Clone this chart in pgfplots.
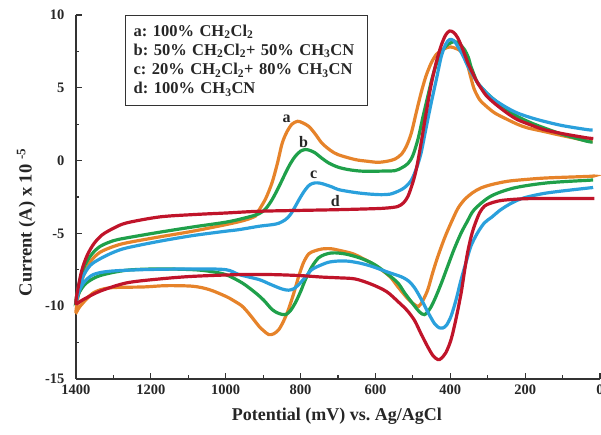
\documentclass[border=0pt]{standalone}
\usepackage{fontspec}
\setmainfont{Liberation Serif}
\usepackage{pgfplots}
\pgfplotsset{compat=1.18}
\frenchspacing

\definecolor{cvA}{HTML}{E6832A}
\definecolor{cvB}{HTML}{1FA04A}
\definecolor{cvC}{HTML}{2AA0DC}
\definecolor{cvD}{HTML}{C0142A}
\definecolor{axcol}{HTML}{333333}

\begin{document}
\begin{tikzpicture}
\begin{axis}[
  at={(0,0)}, anchor=south west,
  scale only axis,
  width=524pt, height=364pt,
  x dir=reverse,
  xmin=0, xmax=1400,
  ymin=-15, ymax=10,
  xtick={0,200,...,1400},
  ytick={-15,-10,...,10},
  minor x tick num=1,
  minor y tick num=1,
  axis x line*=bottom,
  axis y line*=left,
  tick align=inside,
  major tick length=6pt,
  minor tick length=3.5pt,
  every tick/.style={axcol, line width=1.2pt},
  axis line style={axcol, line width=1.3pt},
  /pgf/number format/assume math mode=true,
  /pgf/number format/1000 sep={},
  tick label style={font=\bfseries\fontsize{14.5}{16}\selectfont, text=black!85},
  yticklabel style={xshift=-8pt},
  xticklabel style={yshift=-2pt},
  xlabel={\fontsize{18}{20}\selectfont\bfseries Potential (mV) vs. Ag/AgCl},
  xlabel style={text=black!85,
    at={(axis description cs:0.498,-0.102)}, anchor=center},
  every axis plot/.append style={line width=3.2pt, smooth, tension=0.5},
  clip=false,
]
% a: 100% CH2Cl2 (lower branch 0->1400, then upper branch 1400->0)
\addplot[cvA] coordinates {
(20,-1.05) (26,-1.08) (141,-1.19) (200,-1.3) (247,-1.42) (290,-1.65)
(318,-1.88) (340,-2.2) (362,-2.68) (380,-3.3) (398,-4.28) (415,-5.3)
(433,-6.57) (447,-7.7) (460,-8.86) (473,-9.6) (484,-10.0) (495,-9.9)
(513,-9.5) (539,-8.7) (560,-8.0) (584,-7.5) (610,-7.05) (628,-6.8)
(660,-6.4) (699,-6.15) (720,-6.05) (743,-6.07) (762,-6.2) (778,-6.4)
(792,-7.0) (805,-7.95) (818,-9.1) (832,-10.2) (845,-11.0) (858,-11.6)
(872,-11.9) (885,-11.95) (898,-11.7) (911,-11.38) (935,-10.6) (956,-10.0)
(980,-9.6) (1000,-9.32) (1044,-8.86) (1088,-8.63) (1159,-8.59) (1221,-8.68)
(1310,-8.74) (1354,-9.09) (1389,-10.0) (1400,-10.4)
(1392,-9.0) (1380,-7.9) (1360,-6.9) (1336,-6.3) (1300,-5.9) (1265,-5.65)
(1177,-5.24) (1088,-4.85) (1000,-4.4) (950,-4.1) (920,-3.8) (911,-3.4)
(893,-2.6) (876,-1.5) (862,-0.2) (849,1.2) (836,2.0) (823,2.5) (808,2.7)
(795,2.6) (778,2.35) (760,1.8) (743,1.2) (720,0.7) (699,0.4) (654,0.07)
(620,-0.05) (593,-0.12) (570,-0.05) (548,0.1) (530,0.45) (517,1.0)
(504,1.9) (490,3.4) (478,4.65) (465,5.8) (451,6.7) (437,7.3) (424,7.55)
(410,7.75) (398,7.8) (385,7.7) (371,7.5) (360,7.0) (353,6.5) (345,5.7)
(336,4.9) (322,4.2) (309,3.85) (283,3.3) (256,2.93) (221,2.5) (194,2.25)
(150,2.0) (114,1.79) (70,1.55) (30,1.33) (20,1.3)
};
% b: 50/50
\addplot[cvB] coordinates {
(20,-1.33) (30,-1.35) (141,-1.53) (230,-1.88) (292,-2.45) (336,-3.37)
(355,-4.2) (371,-4.97) (390,-6.1) (407,-7.26) (425,-8.5) (442,-9.55)
(455,-10.2) (469,-10.58) (482,-10.4) (495,-10.0) (510,-9.5) (522,-9.09)
(540,-8.4) (566,-7.83) (590,-7.35) (610,-7.03) (640,-6.7) (672,-6.46)
(695,-6.36) (717,-6.34) (735,-6.45) (752,-6.68) (770,-7.3) (787,-8.17)
(800,-9.0) (814,-9.77) (827,-10.3) (840,-10.58) (858,-10.5) (876,-10.23)
(898,-9.6) (920,-9.09) (956,-8.4) (1000,-7.83) (1044,-7.6) (1088,-7.49)
(1177,-7.44) (1265,-7.53) (1336,-7.9) (1372,-8.4) (1390,-9.0) (1400,-9.6)
(1392,-8.5) (1380,-7.4) (1360,-6.5) (1336,-5.9) (1300,-5.5) (1265,-5.31)
(1177,-4.92) (1088,-4.56) (1000,-4.23) (950,-3.95) (911,-3.65) (893,-3.3)
(876,-2.68) (858,-1.8) (840,-0.84) (827,-0.2) (814,0.3) (800,0.65)
(787,0.76) (775,0.7) (761,0.53) (745,0.2) (725,-0.16) (700,-0.45)
(672,-0.62) (640,-0.72) (610,-0.73) (580,-0.72) (548,-0.69) (530,-0.5)
(513,-0.2) (500,0.35) (486,1.5) (473,3.0) (460,4.42) (447,5.8) (433,6.94)
(420,7.6) (407,7.97) (398,8.1) (389,8.19) (375,8.0) (362,7.62) (352,7.1)
(345,6.48) (335,5.8) (327,5.34) (305,4.7) (283,4.19) (250,3.55) (221,3.04)
(185,2.6) (150,2.25) (100,1.8) (35,1.33) (20,1.28)
};
% c: 20/80
\addplot[cvC] coordinates {
(20,-1.86) (30,-1.88) (141,-2.22) (203,-2.56) (235,-2.9) (265,-3.37)
(290,-3.9) (309,-4.28) (328,-5.0) (345,-5.88) (358,-7.0) (371,-8.17)
(385,-9.6) (398,-10.69) (410,-11.3) (420,-11.5) (429,-11.49) (442,-11.2)
(460,-10.4) (478,-9.5) (495,-8.75) (510,-8.3) (525,-8.05) (539,-7.9)
(557,-7.75) (584,-7.5) (610,-7.26) (640,-7.05) (672,-6.91) (700,-6.9)
(725,-6.98) (748,-7.2) (770,-7.49) (787,-8.0) (805,-8.52) (818,-8.8)
(832,-8.9) (845,-8.85) (858,-8.74) (885,-8.45) (911,-8.17) (964,-7.83)
(1000,-7.49) (1088,-7.44) (1221,-7.49) (1310,-7.6) (1354,-7.83)
(1380,-8.4) (1392,-9.0) (1400,-9.8)
(1393,-9.0) (1382,-8.0) (1362,-7.2) (1336,-6.75) (1300,-6.3) (1265,-6.0)
(1177,-5.54) (1088,-5.15) (1000,-4.85) (964,-4.74) (911,-4.51) (876,-4.4)
(858,-4.3) (840,-4.05) (827,-3.7) (814,-3.14) (800,-2.5) (787,-1.99)
(775,-1.65) (761,-1.53) (748,-1.55) (734,-1.65) (717,-1.8) (699,-1.99)
(672,-2.12) (646,-2.22) (615,-2.3) (584,-2.34) (560,-2.3) (539,-2.1)
(522,-1.85) (504,-1.35) (490,-0.5) (478,0.53) (465,2.2) (451,3.96)
(437,5.6) (424,7.16) (412,8.0) (402,8.31) (391,8.25) (380,7.85) (366,7.2)
(353,6.48) (340,5.9) (327,5.34) (305,4.7) (283,4.19) (250,3.65) (221,3.27)
(185,2.95) (150,2.7) (100,2.4) (35,2.13) (20,2.1)
};
% d: 100% CH3CN
\addplot[cvD] coordinates {
(18,-2.6) (30,-2.61) (186,-2.61) (250,-2.7) (274,-2.79) (295,-2.95)
(309,-3.14) (322,-3.6) (336,-4.51) (345,-5.3) (354,-6.34) (362,-7.6)
(371,-9.09) (385,-10.9) (398,-12.3) (412,-13.2) (425,-13.6) (433,-13.67)
(446,-13.4) (460,-12.8) (478,-11.9) (495,-11.0) (515,-10.3) (539,-9.7)
(570,-9.0) (610,-8.5) (654,-8.13) (700,-8.05) (743,-8.0) (800,-7.9)
(876,-7.83) (964,-7.83) (1088,-7.95) (1177,-8.13) (1265,-8.4) (1336,-8.97)
(1381,-9.55) (1400,-9.8)
(1394,-8.7) (1384,-7.5) (1370,-6.5) (1352,-5.7) (1330,-5.1) (1300,-4.65)
(1265,-4.28) (1177,-3.87) (1088,-3.71) (1000,-3.6) (911,-3.48) (800,-3.42)
(699,-3.37) (600,-3.3) (566,-3.25) (540,-3.15) (525,-2.9) (513,-2.45)
(500,-1.5) (490,-0.5) (478,1.2) (465,3.2) (452,5.1) (438,6.7) (425,7.85)
(413,8.6) (402,8.9) (391,8.8) (380,8.43) (366,7.6) (353,6.7) (340,6.0)
(327,5.34) (305,4.5) (283,3.96) (250,3.3) (221,2.82) (185,2.45) (150,2.13)
(100,1.85) (35,1.56) (18,1.52)
};
\begin{scope}[font=\bfseries\fontsize{16}{18}\selectfont, text=black!85]
\node at (axis cs:837,2.9) {a};
\node at (axis cs:792,1.3) {b};
\node at (axis cs:765,-1.0) {c};
\node at (axis cs:707,-2.8) {d};
\end{scope}
\node[rotate=90, anchor=center, text=black!85,
  font=\bfseries\fontsize{18.5}{20}\selectfont]
  at (axis description cs:-0.095,0.43) {Current (A) x 10 \textsuperscript{-5}};
\node[draw=axcol, line width=1.2pt, anchor=north west,
  text width=226pt, inner xsep=8pt, minimum height=90pt, align=left,
  font=\bfseries\fontsize{16.5}{19.3}\selectfont, text=black!85]
  at (axis description cs:0.0935,1.0) {%
  a: 100\% CH\textsubscript{2}Cl\textsubscript{2}\\
  b: 50\% CH\textsubscript{2}Cl\textsubscript{2}+ 50\% CH\textsubscript{3}CN\\
  c: 20\% CH\textsubscript{2}Cl\textsubscript{2}+ 80\% CH\textsubscript{3}CN\\
  d: 100\% CH\textsubscript{3}CN};
\end{axis}
\pgfresetboundingbox
\useasboundingbox (-76pt,-56pt) rectangle (525pt,379pt);
\end{tikzpicture}
\end{document}
